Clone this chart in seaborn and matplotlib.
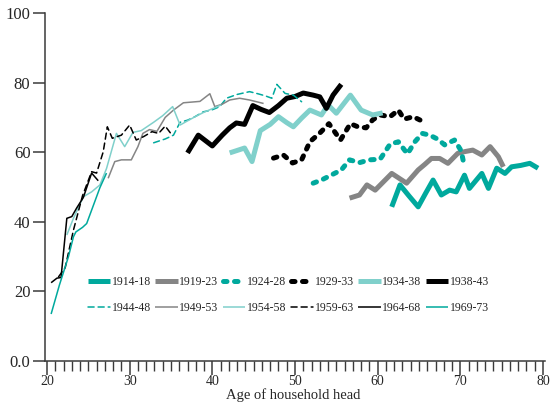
import matplotlib
matplotlib.use("Agg")
import matplotlib.pyplot as plt
import seaborn as sns
import pandas as pd
from matplotlib.ticker import MultipleLocator

sns.set_style("ticks")
plt.rcParams['font.family'] = ['Liberation Serif', 'DejaVu Serif']

TEAL = '#00a99d'
LTEAL = '#80d0cb'
GREY = '#858585'
BLACK = '#000000'

cohorts = ['1914-18', '1919-23', '1924-28', '1929-33', '1934-38', '1938-43',
           '1944-48', '1949-53', '1954-58', '1959-63', '1964-68', '1969-73']

# age of household head / share, one pair per cohort
age_1914 = [61.7, 62.7, 63.8, 64.9, 65.8, 66.7, 67.7, 68.7, 69.5, 70.5, 71.1, 72.6, 73.4, 74.4, 75.4, 76.2, 77.3, 78.4, 79.4]
val_1914 = [44.3, 50.6, 47.4, 44.3, 48.2, 52.0, 47.7, 49.1, 48.6, 53.4, 49.6, 53.9, 49.6, 55.4, 53.9, 55.8, 56.2, 56.8, 55.4]

age_1919 = [56.6, 57.8, 58.7, 59.7, 60.7, 61.7, 62.6, 63.5, 64.9, 65.7, 66.5, 67.5, 68.5, 69.7, 70.6, 71.5, 72.6, 73.6, 74.6, 75.2]
val_1919 = [46.8, 47.7, 50.6, 49.1, 51.5, 53.9, 52.5, 51.1, 54.9, 56.5, 58.2, 58.2, 56.8, 59.7, 60.2, 60.6, 59.2, 61.6, 58.7, 55.8]

age_1924 = [52.2, 53.2, 54.2, 55.6, 56.6, 57.8, 59.0, 60.3, 61.5, 62.5, 63.6, 64.5, 65.4, 66.3, 67.3, 68.1, 69.3, 70.1, 70.5]
val_1924 = [51.1, 52.0, 53.2, 54.9, 57.8, 57.0, 57.8, 58.0, 62.3, 63.0, 59.5, 63.0, 65.4, 64.9, 63.7, 62.1, 63.5, 60.4, 55.8]

age_1929 = [47.4, 48.6, 49.7, 50.8, 51.8, 53.0, 54.1, 55.5, 56.7, 57.6, 58.6, 59.4, 60.3, 61.5, 62.5, 63.2, 64.3, 65.5]
val_1929 = [58.3, 59.2, 56.9, 57.8, 63.0, 65.5, 68.2, 63.5, 68.2, 67.3, 67.0, 69.3, 70.7, 70.2, 72.1, 69.5, 70.2, 68.8]

age_1934 = [42.1, 43.0, 43.9, 44.8, 45.8, 47.0, 48.0, 49.0, 49.8, 50.8, 51.8, 53.2, 54.0, 55.0, 56.7, 58.0, 59.4, 60.6]
val_1934 = [59.8, 60.5, 61.2, 57.3, 66.2, 68.0, 70.2, 68.5, 67.3, 69.8, 72.1, 70.7, 73.6, 71.2, 76.4, 72.1, 70.7, 71.3]

age_1938 = [37.0, 38.3, 40.0, 41.2, 42.1, 42.9, 43.9, 44.9, 45.9, 46.9, 48.0, 49.0, 50.0, 51.0, 52.2, 53.0, 53.8, 54.6, 55.6]
val_1938 = [59.8, 64.9, 61.8, 64.9, 67.0, 68.4, 68.0, 73.4, 72.3, 71.4, 73.4, 75.5, 76.0, 77.0, 76.4, 75.9, 72.6, 76.4, 79.5]

age_1944 = [32.9, 34.3, 35.3, 36.1, 37.0, 37.9, 38.9, 39.9, 40.9, 41.7, 43.0, 44.5, 45.5, 46.4, 47.2, 47.8, 48.8, 49.8, 50.8]
val_1944 = [62.7, 63.8, 64.9, 68.6, 69.2, 70.2, 71.6, 72.1, 73.1, 75.5, 76.6, 77.4, 76.8, 76.2, 75.5, 79.5, 76.9, 76.4, 74.5]

age_1949 = [27.4, 28.2, 29.0, 30.2, 31.0, 31.6, 32.4, 33.3, 34.3, 35.3, 36.5, 37.5, 38.5, 39.7, 40.3, 41.2, 42.1, 43.3, 44.5, 46.2]
val_1949 = [52.5, 57.3, 57.8, 57.8, 61.6, 65.4, 66.5, 66.0, 70.0, 72.1, 74.2, 74.4, 74.6, 76.8, 73.1, 73.8, 75.0, 75.5, 75.0, 74.0]

age_1954 = [22.4, 23.2, 24.4, 25.4, 26.4, 27.2, 28.4, 29.4, 30.4, 31.4, 32.9, 34.0, 35.2, 36.1, 37.0, 38.0, 39.0, 40.0, 41.1]
val_1954 = [36.2, 41.0, 47.2, 48.6, 50.6, 55.3, 65.4, 61.6, 65.7, 66.2, 68.6, 70.5, 73.1, 67.8, 69.0, 70.3, 71.5, 72.5, 73.6]

age_1959 = [21.4, 22.2, 22.8, 23.2, 24.3, 25.4, 26.0, 26.8, 27.3, 27.9, 29.0, 30.0, 30.8, 31.7, 32.7, 33.5, 34.3, 35.1]
val_1959 = [24.2, 26.8, 33.3, 37.6, 47.5, 54.4, 54.0, 60.1, 67.3, 64.0, 64.9, 67.8, 63.5, 64.5, 65.9, 65.4, 67.5, 65.0]

age_1964 = [20.5, 21.2, 21.7, 22.4, 23.0, 23.6, 24.4, 25.4, 26.2]
val_1964 = [22.5, 23.8, 24.0, 41.0, 41.5, 44.0, 47.0, 54.0, 51.8]

age_1969 = [20.5, 21.5, 22.6, 23.2, 23.5, 24.3, 24.8, 25.5, 26.4, 27.2]
val_1969 = [13.5, 21.8, 30.0, 35.7, 37.1, 38.4, 39.5, 44.0, 49.8, 54.0]

ages = [age_1914, age_1919, age_1924, age_1929, age_1934, age_1938,
        age_1944, age_1949, age_1954, age_1959, age_1964, age_1969]
vals = [val_1914, val_1919, val_1924, val_1929, val_1934, val_1938,
        val_1944, val_1949, val_1954, val_1959, val_1964, val_1969]

colors = [TEAL, GREY, TEAL, BLACK, LTEAL, BLACK,
          TEAL, GREY, LTEAL, BLACK, BLACK, TEAL]
thick_dash = (0, (0.7, 1.5))
thin_dash = (0, (4, 2.6))
styles = ['-', '-', thick_dash, thick_dash, '-', '-',
          thin_dash, '-', '-', thin_dash, '-', '-']
widths = [3.6] * 6 + [1.1] * 6

fig = plt.figure(figsize=(5.5, 4.03), dpi=100)
ax = fig.add_axes([45 / 550, 42 / 403, 500 / 550, 348 / 403])

for c, a, v, col, ls, lw in zip(cohorts, ages, vals, colors, styles, widths):
    df = pd.DataFrame({'age': a, 'share': v})
    sns.lineplot(data=df, x='age', y='share', ax=ax, color=col,
                 linestyle=ls, linewidth=lw, label=c, sort=False)

for ln in ax.get_lines():
    ln.set_dash_capstyle('round')
    ln.set_solid_capstyle('butt')

ax.set_xlim(19.76, 80.24)
ax.set_ylim(0, 100)
ax.set_xticks([20, 30, 40, 50, 60, 70, 80])
ax.xaxis.set_minor_locator(MultipleLocator(1))
ax.set_yticks([0, 20, 40, 60, 80, 100])
ax.set_yticklabels(['0.0', '20', '40', '60', '80', '100'])
ax.set_xlabel('Age of household head', fontsize=10.5)
ax.xaxis.set_label_coords(0.496, -0.079)
ax.set_ylabel('')

sns.despine(ax=ax)
for s in ['left', 'bottom']:
    ax.spines[s].set_color('#3a3a3a')
    ax.spines[s].set_linewidth(1.1)
ax.tick_params(axis='x', which='major', length=10, width=1.1, color='#3a3a3a',
               labelsize=10, pad=0)
ax.tick_params(axis='x', which='minor', length=7.5, width=1.0, color='#3a3a3a')
ax.tick_params(axis='y', which='major', length=8.5, width=1.1, color='#3a3a3a',
               labelsize=12, pad=2)

handles, labels = ax.get_legend_handles_labels()
order = [0, 6, 1, 7, 2, 8, 3, 9, 4, 10, 5, 11]
leg = ax.legend([handles[i] for i in order], [labels[i] for i in order],
                ncol=6, loc='upper left', bbox_to_anchor=(0.085, 0.245),
                frameon=False, fontsize=8.5, handlelength=1.9,
                handletextpad=0.15, columnspacing=0.35, labelspacing=1.2,
                borderpad=0, borderaxespad=0)
for ln in leg.get_lines():
    ln.set_dash_capstyle('round')

fig.savefig('out.png', dpi=100)
